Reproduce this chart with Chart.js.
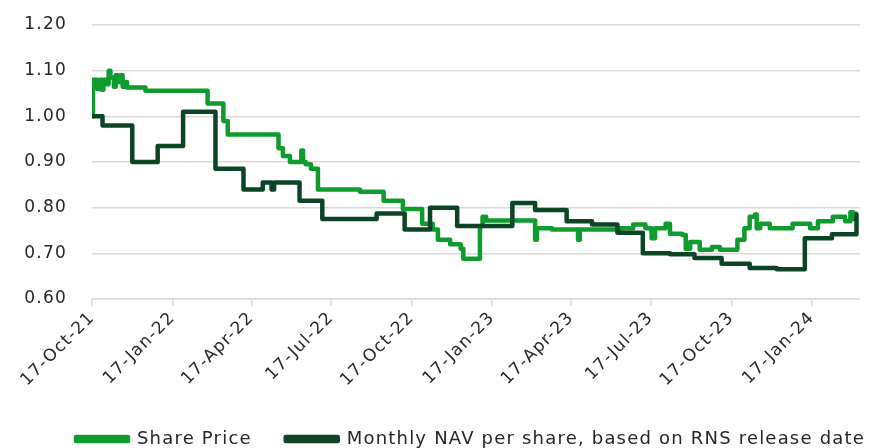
<!DOCTYPE html>
<html>
<head>
<meta charset="utf-8">
<script src="https://cdn.jsdelivr.net/npm/chart.js@4.4.1/dist/chart.umd.min.js"></script>
<style>
  html, body { margin: 0; padding: 0; background: #ffffff; }
  #wrap { width: 869px; height: 448px; }
</style>
</head>
<body>
<div id="wrap"><canvas id="c" width="869" height="448"></canvas></div>
<script>
// ---- Data ----
const seriesNames = ['Share Price', 'Monthly NAV per share, based on RNS release date'];

const shareDates = ['2021-10-17','2021-10-18','2021-10-19','2021-10-23','2021-10-26','2021-10-28','2021-10-30','2021-11-03','2021-11-05','2021-11-07','2021-11-11','2021-11-13','2021-11-16','2021-11-19','2021-11-21','2021-11-23','2021-11-26','2021-12-17','2022-02-26','2022-03-16','2022-03-21','2022-05-18','2022-05-23','2022-05-31','2022-06-13','2022-06-15','2022-06-18','2022-06-24','2022-07-02','2022-08-19','2022-09-15','2022-10-07','2022-10-29','2022-11-10','2022-11-16','2022-11-30','2022-12-12','2022-12-15','2023-01-03','2023-01-06','2023-01-10','2023-03-07','2023-03-09','2023-03-26','2023-04-25','2023-04-27','2023-06-12','2023-06-27','2023-07-11','2023-07-18','2023-07-22','2023-08-03','2023-08-08','2023-08-22','2023-08-26','2023-08-31','2023-09-11','2023-09-25','2023-10-04','2023-10-24','2023-11-01','2023-11-07','2023-11-13','2023-11-15','2023-11-19','2023-11-30','2023-12-26','2024-01-15','2024-01-24','2024-02-10','2024-02-24','2024-03-01','2024-03-04','2024-03-07'];
const shareValues = [1.00,1.08,1.08,1.06,1.08,1.058,1.08,1.07,1.10,1.085,1.065,1.09,1.075,1.09,1.065,1.075,1.063,1.056,1.028,0.99,0.96,0.93,0.913,0.90,0.925,0.90,0.895,0.885,0.84,0.835,0.815,0.797,0.765,0.752,0.73,0.72,0.71,0.688,0.76,0.78,0.772,0.73,0.755,0.752,0.73,0.752,0.755,0.763,0.755,0.733,0.755,0.765,0.743,0.74,0.71,0.725,0.708,0.714,0.708,0.73,0.755,0.78,0.785,0.755,0.765,0.755,0.765,0.755,0.77,0.78,0.77,0.79,0.775,0.787];

const navDates = ['2021-10-17','2021-10-29','2021-12-02','2021-12-31','2022-01-29','2022-03-07','2022-04-08','2022-04-30','2022-05-10','2022-05-13','2022-06-11','2022-07-07','2022-09-07','2022-10-09','2022-11-07','2022-12-08','2023-02-09','2023-03-07','2023-04-12','2023-05-11','2023-06-09','2023-07-08','2023-08-08','2023-09-05','2023-10-06','2023-11-07','2023-12-08','2024-01-09','2024-02-09','2024-03-08'];
const navValues = [1.00,0.98,0.90,0.935,1.01,0.885,0.84,0.855,0.84,0.855,0.815,0.775,0.787,0.752,0.80,0.76,0.81,0.795,0.77,0.763,0.745,0.70,0.698,0.69,0.677,0.668,0.665,0.733,0.742,0.785];

const tickDates = ['2021-10-17','2022-01-17','2022-04-17','2022-07-17','2022-10-17','2023-01-17','2023-04-17','2023-07-17','2023-10-17','2024-01-17'];
const tickLabels = ['17-Oct-21','17-Jan-22','17-Apr-22','17-Jul-22','17-Oct-22','17-Jan-23','17-Apr-23','17-Jul-23','17-Oct-23','17-Jan-24'];
const yTicks = [0.60, 0.70, 0.80, 0.90, 1.00, 1.10, 1.20];

// ---- helpers ----
const DAY = 86400000;
function toDay(s) {
  const p = s.split('-').map(Number);
  return (Date.UTC(p[0], p[1]-1, p[2]) - Date.UTC(2021, 9, 17)) / DAY;
}
const sharePts = shareDates.map((d, i) => ({ x: toDay(d), y: shareValues[i] }));
const navPts = navDates.map((d, i) => ({ x: toDay(d), y: navValues[i] }));
const tickDays = tickDates.map(toDay);

const FONT = 'DejaVu Sans';
const SP_COLOR = '#0f9b2e';
const NAV_COLOR = '#0b4526';
const TEXT_COLOR = '#262626';

const spacingPlugin = {
  id: 'spacing',
  beforeUpdate(chart) { chart.ctx.letterSpacing = '1.2px'; },
  beforeDraw(chart) { chart.ctx.letterSpacing = '1.2px'; },
  afterLayout(chart) {
    const lg = chart.legend;
    if (lg) { lg.left += 36; lg.right += 36; }
  }
};

new Chart(document.getElementById('c'), {
  type: 'line',
  data: {
    datasets: [
      { label: seriesNames[0], data: sharePts, borderColor: SP_COLOR, backgroundColor: SP_COLOR,
        borderWidth: 4.5, pointRadius: 0, stepped: true, order: 1,
        borderJoinStyle: 'round', borderCapStyle: 'round' },
      { label: seriesNames[1], data: navPts, borderColor: NAV_COLOR, backgroundColor: NAV_COLOR,
        borderWidth: 4.5, pointRadius: 0, stepped: true, order: 0,
        borderJoinStyle: 'round', borderCapStyle: 'round' }
    ]
  },
  plugins: [spacingPlugin],
  options: {
    responsive: false,
    animation: false,
    layout: { padding: { top: 25, right: 0, left: 0, bottom: -10 } },
    plugins: {
      legend: {
        position: 'bottom',
        labels: {
          font: { family: FONT, size: 18 },
          color: TEXT_COLOR,
          boxWidth: 52,
          boxHeight: 4,
          padding: 34,
          sort: (a, b) => a.datasetIndex - b.datasetIndex
        }
      },
      tooltip: { enabled: false }
    },
    scales: {
      x: {
        type: 'linear',
        min: 0,
        max: 877,
        afterBuildTicks: (scale) => { scale.ticks = tickDays.map(v => ({ value: v })); },
        afterFit: (scale) => { scale.height = 97; scale.paddingRight = 9; },
        ticks: {
          autoSkip: false,
          minRotation: 45,
          maxRotation: 45,
          font: { family: FONT, size: 17 },
          color: TEXT_COLOR,
          padding: 2,
          callback: (v) => { const i = tickDays.indexOf(v); return i >= 0 ? tickLabels[i] : ''; }
        },
        grid: { display: true, drawOnChartArea: false, drawTicks: true, tickLength: 7, color: '#d9d9d9', lineWidth: 1.5 },
        border: { display: true, color: '#d9d9d9', width: 1.5 }
      },
      y: {
        min: 0.60,
        max: 1.20,
        afterBuildTicks: (scale) => { scale.ticks = yTicks.map(v => ({ value: v })); },
        afterFit: (scale) => { scale.width = 92; scale.paddingTop = 0; scale.paddingBottom = 0; },
        ticks: {
          font: { family: FONT, size: 17 },
          color: TEXT_COLOR,
          padding: 25,
          callback: (v) => Number(v).toFixed(2)
        },
        grid: { color: '#d9d9d9', lineWidth: 1.5, drawTicks: false },
        border: { display: false }
      }
    }
  }
});
</script>
</body>
</html>
